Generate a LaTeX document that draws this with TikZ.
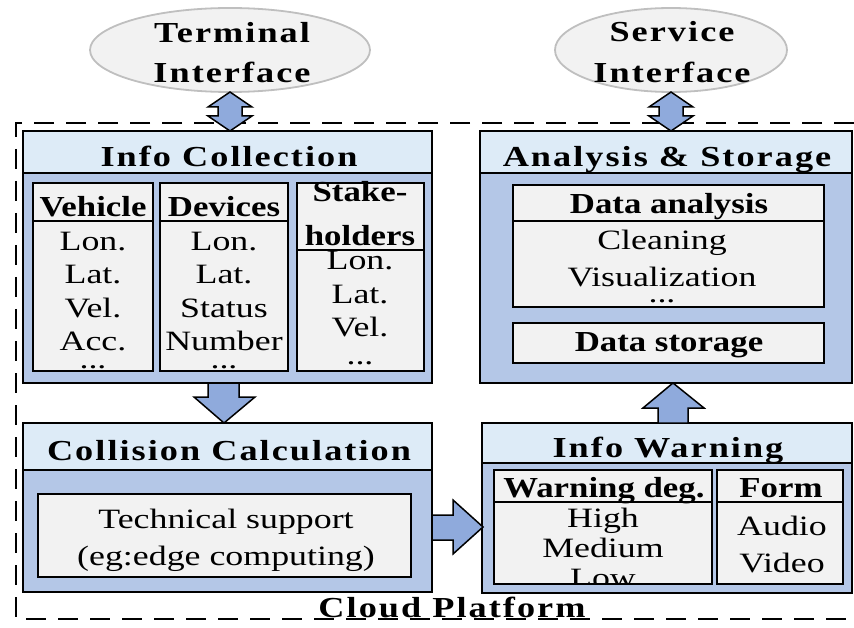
\documentclass[tikz,border=0pt]{standalone}
\usepackage{fontspec}
\setmainfont[FakeStretch=1.28]{Liberation Serif}
\newfontfamily\titf[FakeStretch=1.25,LetterSpace=7]{Liberation Serif}
\newfontfamily\subf[FakeStretch=1.2]{Liberation Serif}
\usetikzlibrary{shapes.geometric,calc}
\definecolor{hdrc}{HTML}{DDEBF7}
\definecolor{bodyc}{HTML}{B4C7E7}
\definecolor{inc}{HTML}{F2F2F2}
\definecolor{arrc}{HTML}{8FAADC}
\definecolor{ellc}{HTML}{BFBFBF}
\newcommand\ftitle{\titf\bfseries\fontsize{29}{35}\selectfont}
\newcommand\fsub{\subf\bfseries\fontsize{29}{35}\selectfont}
\newcommand\fbody{\fontsize{28}{33}\selectfont}
\tikzset{
 outerbox/.style={draw=black, line width=2.2pt, fill=bodyc, anchor=north west, inner sep=0pt, outer sep=0pt, rectangle},
 hdrbox/.style={draw=black, line width=2.2pt, fill=hdrc, anchor=north west, inner sep=0pt, outer sep=0pt, rectangle},
 inbox/.style={draw=black, line width=2.2pt, fill=inc, anchor=north west, inner sep=0pt, outer sep=0pt, rectangle},
 ttl/.style={anchor=base, inner sep=0pt, font=\ftitle},
 subt/.style={anchor=base, inner sep=0pt, font=\fsub},
 txt/.style={anchor=base, inner sep=0pt, font=\fbody},
 barrow/.style={draw=black, line width=1.5pt, fill=arrc, line join=miter},
 ell/.style={ellipse, draw=ellc, line width=1.8pt, fill=inc, inner sep=0pt, outer sep=0pt},
 cloudline/.style={draw=black, line width=2.5pt, dash pattern=on 20pt off 12pt},
}
\begin{document}
\begin{tikzpicture}[x=1pt,y=-1pt]
\useasboundingbox (0,0) rectangle (854,628);
% cloud platform dashed frame
\coordinate (c1) at (854,123);
\coordinate (c2) at (16,123);
\coordinate (c3) at (16,619);
\coordinate (c4) at (854,619);
\draw[cloudline] (c1) -- (c2) -- (c3) -- (c4);
\node[ttl] (cloud) at (452,617) {Cloud Platform};

% ellipses
\node[ell, minimum width=280pt, minimum height=84pt] (term) at (230,50) {};
\node[ttl] (termt1) at (232,43) {Terminal};
\node[ttl] (termt2) at (232,83) {Interface};
\node[ell, minimum width=232pt, minimum height=84pt] (serv) at (671,50) {};
\node[ttl] (servt1) at (672,42) {Service};
\node[ttl] (servt2) at (672,83) {Interface};

% Info Collection
\node[outerbox, minimum width=409pt, minimum height=252pt] (ic) at (23,131) {};
\node[hdrbox, minimum width=409pt, minimum height=42pt] (ich) at (23,131) {};
\node[ttl] (ict) at (229,167) {Info Collection};
\node[inbox, minimum width=120pt, minimum height=188pt] (veh) at (33,183) {};
\node[inbox, minimum width=120pt, minimum height=38pt] (vehh) at (33,183) {};
\node[subt] (veht) at (93,217) {Vehicle};
\node[inbox, minimum width=128pt, minimum height=188pt] (dev) at (160,183) {};
\node[inbox, minimum width=128pt, minimum height=38pt] (devh) at (160,183) {};
\node[subt] (devt) at (224,217) {Devices};
\node[inbox, minimum width=127pt, minimum height=188pt] (stk) at (297,183) {};
\node[inbox, minimum width=127pt, minimum height=67pt] (stkh) at (297,183) {};
\node[subt] (stkt1) at (360,202) {Stake-};
\node[subt] (stkt2) at (360,246) {holders};
\foreach \t [count=\i] in {Lon.,Lat.,Vel.,Acc.}
  \node[txt] (vehl\i) at (93,{251+33*(\i-1)}) {\t};
\node[txt] (vehd) at (93,368) {...};
\foreach \t [count=\i] in {Lon.,Lat.,Status,Number}
  \node[txt] (devl\i) at (224,{251+33*(\i-1)}) {\t};
\node[txt] (devd) at (224,368) {...};
\foreach \t [count=\i] in {Lon.,Lat.,Vel.}
  \node[txt] (stkl\i) at (360,{270+33.5*(\i-1)}) {\t};
\node[txt] (stkd) at (360,364) {...};

% Analysis & Storage
\node[outerbox, minimum width=372pt, minimum height=252pt] (as) at (480,131) {};
\node[hdrbox, minimum width=372pt, minimum height=42pt] (ash) at (480,131) {};
\node[ttl] (ast) at (667,167) {Analysis \& Storage};
\node[inbox, minimum width=311pt, minimum height=122pt] (da) at (513,185) {};
\node[inbox, minimum width=311pt, minimum height=36pt] (dah) at (513,185) {};
\node[subt] (dat) at (669,214) {Data analysis};
\node[txt] (dal1) at (662,250) {Cleaning};
\node[txt] (dal2) at (662,287) {Visualization};
\node[txt] (dad) at (662,303) {...};
\node[inbox, minimum width=311pt, minimum height=40pt] (ds) at (513,323) {};
\node[subt] (dst) at (669,352) {Data storage};

% Collision Calculation
\node[outerbox, minimum width=409pt, minimum height=169pt] (cc) at (23,423) {};
\node[hdrbox, minimum width=409pt, minimum height=47pt] (cch) at (23,423) {};
\node[ttl] (cct) at (229,460) {Collision Calculation};
\node[inbox, minimum width=373pt, minimum height=83pt] (ts) at (38,494) {};
\node[txt] (tsl1) at (226,528) {Technical support};
\node[txt] (tsl2) at (226,565) {(eg:edge computing)};

% Info Warning
\node[outerbox, minimum width=370pt, minimum height=170pt] (iw) at (482,423) {};
\node[hdrbox, minimum width=370pt, minimum height=40pt] (iwh) at (482,423) {};
\node[ttl] (iwt) at (668,457) {Info Warning};
\node[inbox, minimum width=218pt, minimum height=114pt] (wd) at (494,470) {};
\node[inbox, minimum width=218pt, minimum height=32pt] (wdh) at (494,470) {};
\node[subt] (wdt) at (604,497) {Warning deg.};
\begin{scope}
\clip (495,503) rectangle (711,583);
\node[txt] (wdl1) at (603,527) {High};
\node[txt] (wdl2) at (603,557) {Medium};
\node[txt] (wdl3) at (603,587) {Low};
\end{scope}
\node[inbox, minimum width=126pt, minimum height=114pt] (fm) at (717,470) {};
\node[inbox, minimum width=126pt, minimum height=32pt] (fmh) at (717,470) {};
\node[subt] (fmt) at (781,497) {Form};
\node[txt] (fml1) at (782,535) {Audio};
\node[txt] (fml2) at (782,572) {Video};

% block arrows
% terminal <-> info collection
\draw[barrow] (term.south) -- ($(term.south)+(22,15)$) -- ($(term.south)+(12,15)$)
  -- ($(term.south)+(12,24)$) -- ($(term.south)+(22,24)$) -- (term.south |- ic.north)
  -- ($(term.south)+(-22,24)$) -- ($(term.south)+(-12,24)$) -- ($(term.south)+(-12,15)$)
  -- ($(term.south)+(-22,15)$) -- cycle;
% service <-> analysis
\draw[barrow] (serv.south) -- ($(serv.south)+(22,15)$) -- ($(serv.south)+(12,15)$)
  -- ($(serv.south)+(12,24)$) -- ($(serv.south)+(22,24)$) -- (serv.south |- as.north)
  -- ($(serv.south)+(-22,24)$) -- ($(serv.south)+(-12,24)$) -- ($(serv.south)+(-12,15)$)
  -- ($(serv.south)+(-22,15)$) -- cycle;
% info collection -> collision calculation
\draw[barrow] ($(ic.south)+(-19.5,0)$) -- ($(ic.south)+(11.5,0)$) -- ($(ic.south)+(11.5,14)$)
  -- ($(ic.south)+(27.5,14)$) -- ($(cc.north)+(-3.5,0)$) -- ($(ic.south)+(-33.5,14)$)
  -- ($(ic.south)+(-19.5,14)$) -- cycle;
% info warning -> analysis
\draw[barrow] ($(iw.north)+(-9,0)$) -- ($(iw.north)+(21,0)$) -- ($(iw.north)+(21,-15)$)
  -- ($(iw.north)+(37,-15)$) -- ($(as.south)+(7,0)$) -- ($(iw.north)+(-24,-15)$)
  -- ($(iw.north)+(-9,-15)$) -- cycle;
% collision calculation -> info warning
\draw[barrow] ($(cc.east)+(0,7.5)$) -- ($(cc.east)+(21,7.5)$) -- ($(cc.east)+(21,-7.5)$)
  -- ($(iw.west)+(1,19)$) -- ($(cc.east)+(21,46.5)$) -- ($(cc.east)+(21,32.5)$)
  -- ($(cc.east)+(0,32.5)$) -- cycle;
\end{tikzpicture}
\end{document}
